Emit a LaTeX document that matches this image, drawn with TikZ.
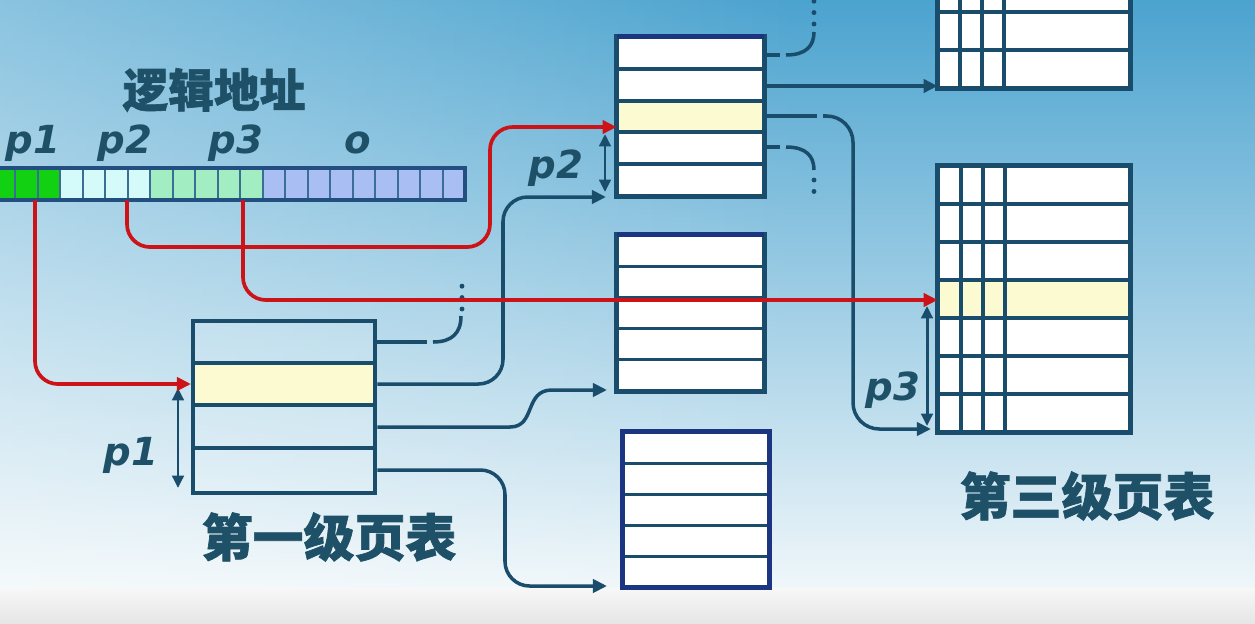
\documentclass[tikz,border=0pt]{standalone}
\usepackage{fontspec}
\setmainfont{DejaVu Sans}
\newfontfamily\cjk{Noto Sans CJK SC}[BoldFeatures={FakeBold=1.3}]
\usetikzlibrary{arrows.meta,fadings,fit,calc}
\definecolor{ink}{HTML}{1A4D6B}
\definecolor{txt}{HTML}{1E5168}
\definecolor{redl}{HTML}{CC1418}
\definecolor{yel}{HTML}{FCFAD0}
\definecolor{navy}{HTML}{1B3580}
\definecolor{bgtop}{HTML}{4BA3CF}
\definecolor{bgmid}{HTML}{8CC5DE}
\definecolor{bgbot}{HTML}{F0F7FA}
\definecolor{cg}{HTML}{12D012}
\definecolor{cc}{HTML}{D4FAFA}
\definecolor{cl}{HTML}{A2EEC2}
\definecolor{cb}{HTML}{A9BEF2}
\definecolor{cellline}{HTML}{3A6E96}
\definecolor{barframe}{HTML}{234F80}
\tikzset{
  tbl/.style={draw=ink, line width=2.8pt, inner sep=0pt},
  sepl/.style={draw=ink, line width=2.3pt},
  thinsep/.style={draw=ink, line width=1.7pt},
  conn/.style={draw=ink, line width=2pt},
  arr/.style={-{Triangle[length=8pt,width=7.5pt]}},
  redc/.style={draw=redl, line width=2.1pt, -{Triangle[length=8pt,width=7.5pt]}},
  dbl/.style={draw=ink, line width=1.7pt, {Triangle[length=7pt,width=6.5pt]}-{Triangle[length=7pt,width=6.5pt]}},
  dotsl/.style={draw=ink, line width=2.8pt, line cap=round, dash pattern=on 0pt off 6.5pt},
  plab/.style={text=txt, font=\bfseries\itshape\fontsize{22}{22}\selectfont, anchor=base, inner sep=0pt},
  cjklab/.style={text=txt, font=\cjk\bfseries\fontsize{29}{29}\selectfont, inner sep=0pt},
}
\begin{document}
\begin{tikzpicture}[x=0.02cm,y=-0.02cm]
\useasboundingbox (0,0) rectangle (1255,623);
\clip (0,0) rectangle (1255,623);
% background
\shade[top color=bgtop, middle color=bgmid, bottom color=bgbot] (0,0) rectangle (1255,590);
\fill[white, path fading=east, fill opacity=0.35] (0,0) rectangle (800,590);
\shade[top color=gray!6, bottom color=gray!20] (0,588) rectangle (1255,623);

% ---------- logical address bar ----------
\foreach \i in {0,...,20}{
  \pgfmathsetmacro\xa{-7.2+22.49*\i}
  \pgfmathsetmacro\xb{\xa+22.49}
  \ifnum\i<3 \def\cc{cg}\else\ifnum\i<7 \def\cc{cc}\else\ifnum\i<12 \def\cc{cl}\else\def\cc{cb}\fi\fi\fi
  \draw[fill=\cc, draw=cellline, line width=1.2pt] (\xa,168) rectangle (\xb,200);
}
\node[fit={(-7.2,168) (465,200)}, draw=barframe, line width=2pt, inner sep=0pt] (bar) {};
\node[cjklab, font=\cjk\bfseries\fontsize{26}{26}\selectfont] (la) at (214,90) {逻辑地址};
\node[plab] (lp1) at (33,153) {p1};
\node[plab] (lp2) at (125,153) {p2};
\node[plab] (lp3) at (236,153) {p3};
\node[plab] (lo) at (358,153) {o};
\coordinate (a1) at (35,200);
\coordinate (a2) at (127,200);
\coordinate (a3) at (243,200);

% ---------- first-level table ----------
\fill[white, fill opacity=0.12] (193,321) rectangle (375,493);
\fill[yel] (193,363) rectangle (375,405);
\foreach \y in {363,405,448} \draw[sepl] (193,\y) -- (375,\y);
\node[tbl, fit={(193,321) (375,493)}] (T1) {};
\coordinate (T1in) at (191,384);
\draw[dbl] (178,388) -- (178,488);
\node[plab] (q1) at (131,465) {p1};
\node[cjklab] (L1) at (329,537) {第一级页表};

% ---------- second-level tables ----------
% table 2a
\node[fit={(617,37) (764,196)}, fill=white, inner sep=0pt] (T2a) {};
\fill[yel] (617,100.6) rectangle (764,132.4);
\foreach \y in {68.8,100.6,132.4,164.2} \draw[sepl] (617,\y) -- (764,\y);
\draw[tbl] (T2a.north west) rectangle (T2a.south east);
\draw[draw=navy, line width=2.8pt] (T2a.north west) -- (T2a.north east);
% table 2b
\node[fit={(617,235) (764,391)}, fill=white, inner sep=0pt] (T2b) {};
\foreach \y in {266.2,297.4,328.6,359.8} \draw[thinsep] (617,\y) -- (764,\y);
\draw[tbl] (T2b.north west) rectangle (T2b.south east);
\draw[draw=navy, line width=2.8pt] (T2b.north west) -- (T2b.north east);
% table 2c
\node[fit={(623,432) (769,587)}, fill=white, inner sep=0pt] (T2c) {};
\foreach \y in {463,494,525,556} \draw[thinsep] (623,\y) -- (769,\y);
\draw[tbl, draw=navy] (T2c.north west) rectangle (T2c.south east);

\draw[dbl] (605,134) -- (605,192);
\node[plab] (q2) at (556,178) {p2};

% ---------- third-level tables ----------
% table 3a (top, cut off)
\node[fit={(938,-40) (1130,88)}, fill=white, inner sep=0pt] (T3a) {};
\foreach \y in {-26,12,50} \draw[sepl] (938,\y) -- (1130,\y);
\foreach \x in {960,982,1004} \draw[sepl] (\x,-40) -- (\x,88);
\draw[tbl] (T3a.north west) rectangle (T3a.south east);
% table 3b
\node[fit={(938,166) (1130,432)}, fill=white, inner sep=0pt] (T3b) {};
\fill[yel] (938,280) rectangle (1130,318);
\foreach \y in {204,242,280,318,356,394} \draw[sepl] (938,\y) -- (1130,\y);
\foreach \x in {961,983,1005} \draw[sepl] (\x,166) -- (\x,432);
\draw[tbl] (T3b.north west) rectangle (T3b.south east);
\draw[dbl] (927,306) -- (927,426);
\node[plab] (q3) at (893,400) {p3};
\node[cjklab] (L3) at (1087,496) {第三级页表};

% ---------- blue connectors from first-level table ----------
\draw[conn] (T1.east |- 0,342) -- (427,342);
\draw[conn] (433,342) .. controls (452,342) and (461,333) .. (461,316);
\draw[dotsl] (462,309) -- (462,281);
\coordinate (b2) at (606,197);
\draw[conn, arr, rounded corners=14pt] (T1.east |- 0,384) -- (503,384) -- (503,197) -- (b2);
\coordinate (b3) at (607,390);
\draw[conn, arr] (T1.east |- 0,427) -- (510,427) .. controls (536,427) and (524,390) .. (552,390) -- (b3);
\coordinate (b4) at (607,586);
\draw[conn, arr, rounded corners=14pt] (T1.east |- 0,470) -- (505,470) -- (505,586) -- (b4);

% ---------- blue connectors from table 2a ----------
\draw[conn] (T2a.east |- 0,55) -- (780,55);
\draw[conn] (786,55) .. controls (806,55) and (814,46) .. (814,32);
\draw[dotsl] (814,24) -- (814,-2);
\draw[conn, arr] (T2a.east |- 0,86) -- (T3a.west |- 0,86);
\draw[conn] (T2a.east |- 0,116) -- (817,116);
\coordinate (c3) at (931,429);
\draw[conn, arr, rounded corners=15pt] (823,116) -- (853,116) -- (853,429) -- (c3);
\draw[conn] (T2a.east |- 0,147) -- (780,147);
\draw[conn] (786,147) .. controls (806,147) and (814,156) .. (814,170);
\draw[dotsl] (814,180) -- (814,202);

% ---------- red connectors ----------
\draw[redc, rounded corners=13pt] (a1) -- (35,384) -- (T1in);
\draw[redc, rounded corners=13pt] (a2) -- (127,247) -- (490,247) -- (490,127) -- (T2a.west |- 0,127);
\draw[redc, rounded corners=13pt] (a3) -- (243,300) -- (T3b.west |- 0,300);
\end{tikzpicture}
\end{document}
